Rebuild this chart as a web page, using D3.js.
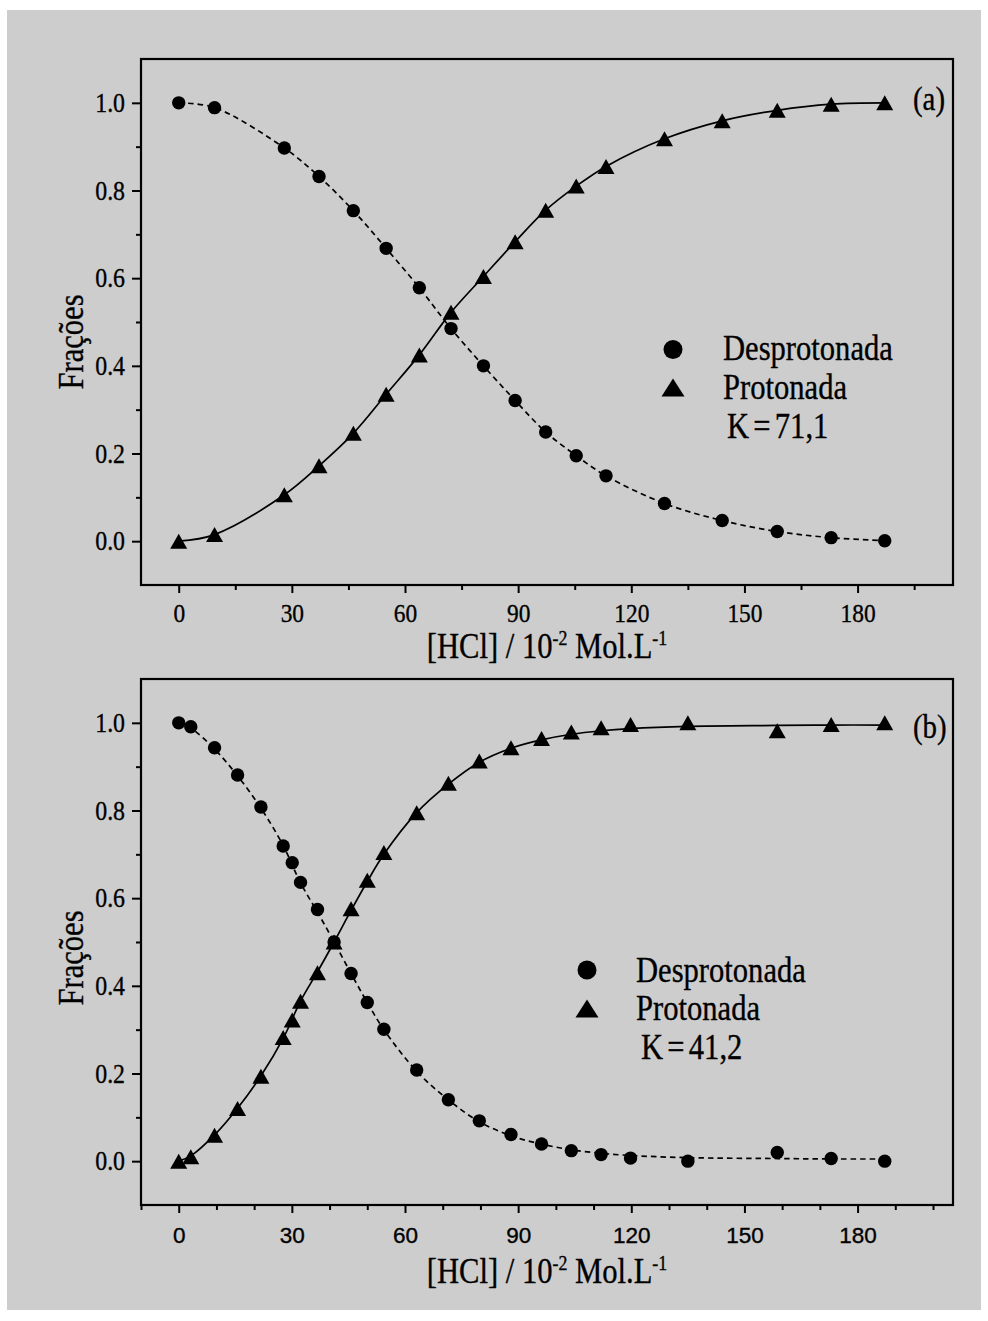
<!DOCTYPE html>
<html><head><meta charset="utf-8">
<script src="https://cdn.jsdelivr.net/npm/d3@7"></script>
<style>body{margin:0;background:#fff} text{stroke:#000;stroke-width:0.35px;}</style>
</head><body>
<svg id="c" width="988" height="1321"></svg>
<script>
// ---------- data ----------
const xTicksMajor = [0, 30, 60, 90, 120, 150, 180];
const xTicksMinorA = [15, 45, 75, 105, 135, 165, 195];
const xTicksMinorB = [-10, 10, 20, 40, 50, 70, 80, 100, 110, 130, 140, 160, 170, 190, 200];
const yTicksMajor = [0.0, 0.2, 0.4, 0.6, 0.8, 1.0];
const yTicksMinor = [-0.1, 0.1, 0.3, 0.5, 0.7, 0.9, 1.1];
const yTickLabels = ["0.0", "0.2", "0.4", "0.6", "0.8", "1.0"];

// panel (a)
const xA    = [0, 9.5, 28, 37.2, 46.3, 55, 63.8, 72.2, 80.8, 89.2, 97.3, 105.4, 113.3, 128.8, 144.1, 158.7, 173, 187.2];
const despA = [1.0, 0.989, 0.897, 0.832, 0.754, 0.668, 0.578, 0.485, 0.40, 0.321, 0.249, 0.195, 0.149, 0.086, 0.047, 0.022, 0.008, 0.001];
const protA = [0.0, 0.015, 0.106, 0.172, 0.246, 0.335, 0.425, 0.522, 0.604, 0.683, 0.755, 0.81, 0.855, 0.918, 0.959, 0.983, 0.997, 1.0];

// panel (b)
const xB    = [0, 3.2, 9.5, 15.6, 21.8, 27.7, 30.1, 32.3, 36.8, 41.2, 45.7, 50, 54.4, 63.1, 71.5, 79.7, 88.1, 96.2, 104.1, 112, 119.8, 135, 158.7, 173, 187.2];
const despB = [1.0, 0.991, 0.943, 0.881, 0.808, 0.719, 0.681, 0.636, 0.574, 0.5, 0.428, 0.362, 0.301, 0.208, 0.14, 0.092, 0.061, 0.039, 0.024, 0.015, 0.007, 0.0, 0.02, 0.006, 0.0];
const protB = [0.0, 0.01, 0.059, 0.12, 0.194, 0.282, 0.322, 0.365, 0.43, 0.5, 0.576, 0.641, 0.704, 0.795, 0.862, 0.913, 0.943, 0.964, 0.979, 0.989, 0.996, 1.0, 0.982, 0.996, 1.0];
// fitted curves of panel (b)
const fitXB    = [0, 3.2, 9.5, 15.7, 21.9, 27.7, 32.3, 37, 41.2, 45.7, 50, 54.4, 63.1, 71.5, 79.7, 88.1, 96.1, 104.1, 112, 119.7, 135, 158.7, 173, 187];
const fitProtB = [0, 0.012, 0.06, 0.122, 0.196, 0.28, 0.365, 0.435, 0.5, 0.572, 0.638, 0.7, 0.795, 0.86, 0.91, 0.942, 0.961, 0.974, 0.982, 0.987, 0.992, 0.994, 0.995, 0.995];
const fitDespB = [1.0, 0.988, 0.94, 0.878, 0.804, 0.72, 0.635, 0.565, 0.5, 0.428, 0.362, 0.3, 0.205, 0.14, 0.09, 0.058, 0.039, 0.026, 0.018, 0.013, 0.008, 0.006, 0.005, 0.005];

const legendLabels = ["Desprotonada", "Protonada"];
const kLabels = ["K = 71,1", "K = 41,2"];
const panelLabels = ["(a)", "(b)"];
const yTitle = "Frações";

// ---------- drawing ----------
const svg = d3.select("#c");
const SERIF = "'Liberation Serif','Times New Roman',serif";
const SANS = "'Liberation Sans',Arial,sans-serif";
const SX = 0.85;

svg.append("rect").attr("x", 7).attr("y", 10).attr("width", 974).attr("height", 1300).attr("fill", "#cdcdcd");

function text(g, x, y, str, size, anchor, sx, family) {
  return g.append("text")
    .attr("transform", `translate(${x},${y}) scale(${sx},1)`)
    .attr("text-anchor", anchor || "start")
    .attr("font-family", family || SERIF)
    .attr("font-size", size)
    .attr("fill", "#000")
    .text(str);
}

const triPath = (w, h) => `M0,${-h/2}L${w/2},${h/2}L${-w/2},${h/2}Z`;

const panels = [
  { top: 59, bottom: 585, xs: xA, desp: despA, prot: protA, fx: xA, fd: despA, fp: protA, minor: xTicksMinorA,
    xLabelFont: SERIF, xLabelSize: 26, xLabelSX: 0.9, xLabelBase: 622,
    legend: { cx: 673, cy1: 349.5, cy2: 387.5, tx: 723, b1: 360, b2: 399, kx: 727, kb: 438 },
    label: { x: 913, y: 110 }, titleBase: 658, yTitleC: 342, curve: d3.curveCatmullRom.alpha(0.5) },
  { top: 679, bottom: 1205, xs: xB, desp: despB, prot: protB, fx: fitXB, fd: fitDespB, fp: fitProtB, minor: xTicksMinorB,
    xLabelFont: SANS, xLabelSize: 22.5, xLabelSX: 1.0, xLabelBase: 1243,
    legend: { cx: 587, cy1: 970, cy2: 1008.5, tx: 636, b1: 981.5, b2: 1019.5, kx: 641, kb: 1059 },
    label: { x: 913, y: 738 }, titleBase: 1283, yTitleC: 958, curve: d3.curveCatmullRom.alpha(0.5) }
];

const left = 141, right = 953;

panels.forEach((p, i) => {
  const g = svg.append("g");
  const x = d3.scaleLinear().domain([-10, 205.3]).range([left, right]);
  const y = d3.scaleLinear().domain([-0.1, 1.1]).range([p.bottom, p.top]);

  // x axis ticks
  const xa = g.append("g").attr("transform", `translate(0,${p.bottom})`)
    .call(d3.axisBottom(x).tickValues(xTicksMajor).tickSize(8).tickSizeOuter(0).tickFormat(d3.format("d")));
  xa.select(".domain").remove();
  xa.selectAll("line").attr("stroke", "#000").attr("stroke-width", 2);
  xa.selectAll("text").attr("y", null).attr("dy", null)
    .attr("transform", `translate(0,${p.xLabelBase - p.bottom}) scale(${p.xLabelSX},1)`)
    .attr("font-family", p.xLabelFont).attr("font-size", p.xLabelSize).attr("fill", "#000");
  const xm = g.append("g").attr("transform", `translate(0,${p.bottom})`)
    .call(d3.axisBottom(x).tickValues(p.minor).tickSize(5).tickSizeOuter(0).tickFormat(""));
  xm.select(".domain").remove();
  xm.selectAll("line").attr("stroke", "#000").attr("stroke-width", 2);

  // y axis ticks
  const ya = g.append("g").attr("transform", `translate(${left},0)`)
    .call(d3.axisLeft(y).tickValues(yTicksMajor).tickSize(9).tickSizeOuter(0).tickFormat((d, k) => yTickLabels[k]));
  ya.select(".domain").remove();
  ya.selectAll("line").attr("stroke", "#000").attr("stroke-width", 2);
  ya.selectAll("text").attr("x", null).attr("dy", null)
    .attr("transform", `translate(-16,8.5) scale(0.9,1)`)
    .attr("font-family", SERIF).attr("font-size", 26.5).attr("fill", "#000");
  const ym = g.append("g").attr("transform", `translate(${left},0)`)
    .call(d3.axisLeft(y).tickValues(yTicksMinor.filter(v => v > -0.1 && v < 1.1)).tickSize(5).tickSizeOuter(0).tickFormat(""));
  ym.select(".domain").remove();
  ym.selectAll("line").attr("stroke", "#000").attr("stroke-width", 2);

  // frame
  g.append("rect").attr("x", left).attr("y", p.top).attr("width", right - left).attr("height", p.bottom - p.top)
    .attr("fill", "none").attr("stroke", "#000").attr("stroke-width", 2.2);

  // curves
  const line = d3.line().x(d => x(d[0])).y(d => y(d[1])).curve(p.curve);
  g.append("path").attr("d", line(p.fx.map((v, k) => [v, p.fd[k]])))
    .attr("fill", "none").attr("stroke", "#000").attr("stroke-width", 1.7).attr("stroke-dasharray", "5.5,4");
  g.append("path").attr("d", line(p.fx.map((v, k) => [v, p.fp[k]])))
    .attr("fill", "none").attr("stroke", "#000").attr("stroke-width", 1.7);

  // markers
  g.selectAll(".c").data(p.xs.map((v, k) => [v, p.desp[k]])).enter().append("circle")
    .attr("cx", d => x(d[0])).attr("cy", d => y(d[1])).attr("r", 6.7).attr("fill", "#000");
  g.selectAll(".t").data(p.xs.map((v, k) => [v, p.prot[k]])).enter().append("path")
    .attr("d", triPath(17, 15)).attr("transform", d => `translate(${x(d[0])},${y(d[1])})`).attr("fill", "#000");

  // legend
  const L = p.legend;
  g.append("circle").attr("cx", L.cx).attr("cy", L.cy1).attr("r", 9.5).attr("fill", "#000");
  g.append("path").attr("d", triPath(23, 18)).attr("transform", `translate(${L.cx},${L.cy2})`).attr("fill", "#000");
  text(g, L.tx, L.b1, legendLabels[0], 36, "start", SX);
  text(g, L.tx, L.b2, legendLabels[1], 36, "start", SX);
  text(g, L.kx, L.kb, kLabels[i], 36, "start", SX).attr("word-spacing", "-4px");

  // panel label
  text(g, p.label.x, p.label.y, panelLabels[i], 34, "start", SX);

  // x title
  const t = text(g, (left + right) / 2, p.titleBase, "", 36, "middle", SX);
  t.text(null);
  t.append("tspan").text("[HCl] / 10");
  t.append("tspan").attr("font-size", 21).attr("dy", -13).text("-2");
  t.append("tspan").attr("dy", 13).text(" Mol.L");
  t.append("tspan").attr("font-size", 21).attr("dy", -13).text("-1");

  // y title
  g.append("text")
    .attr("transform", `translate(83,${p.yTitleC}) rotate(-90) scale(${SX},1)`)
    .attr("text-anchor", "middle").attr("font-family", SERIF).attr("font-size", 36).attr("fill", "#000")
    .text(yTitle);
});
</script>
</body></html>
